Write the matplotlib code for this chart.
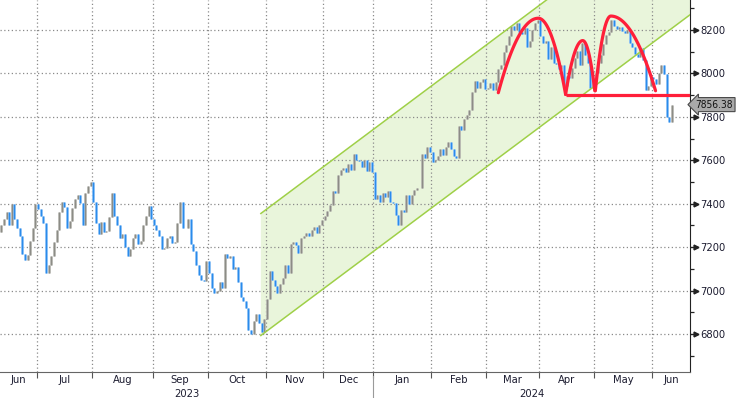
import numpy as np
import matplotlib
matplotlib.use("Agg")
import matplotlib.pyplot as plt
from matplotlib.transforms import blended_transform_factory

plt.rcParams['font.family'] = ['Liberation Sans Narrow', 'DejaVu Sans']
plt.rcParams['font.stretch'] = 'condensed'

# daily closes, one list per month (trading days)
prior_close = 7270
jun23 = [7300, 7330, 7360, 7300, 7400, 7330, 7290, 7250, 7170, 7140, 7165, 7230, 7290, 7400]
jul23 = [7375, 7345, 7310, 7080, 7120, 7160, 7225, 7280, 7360, 7410, 7385, 7290, 7320, 7380,
         7420, 7440, 7405, 7300, 7450, 7480, 7500]
aug23 = [7410, 7310, 7260, 7315, 7270, 7275, 7340, 7450, 7345, 7300, 7240, 7260, 7200, 7160,
         7190, 7240, 7260, 7215, 7230, 7300, 7345, 7390, 7330]
sep23 = [7300, 7280, 7250, 7190, 7195, 7240, 7250, 7220, 7225, 7310, 7410, 7290, 7290, 7330,
         7215, 7180, 7120, 7070, 7050, 7045, 7135]
oct23 = [7080, 7010, 6990, 7000, 7040, 7010, 7170, 7150, 7160, 7100, 7110, 7040, 6970, 6950,
         6920, 6820, 6800, 6860, 6890, 6850, 6810, 6870]
nov23 = [6960, 7090, 7050, 7020, 6990, 7030, 7060, 7120, 7080, 7215, 7225, 7210, 7175, 7240,
         7250, 7265, 7250, 7280, 7295, 7265, 7300, 7325]
dec23 = [7345, 7365, 7395, 7460, 7450, 7530, 7555, 7565, 7545, 7585, 7555, 7630, 7600, 7595,
         7570, 7600, 7550, 7590, 7545]
jan24 = [7420, 7440, 7410, 7450, 7430, 7460, 7410, 7405, 7350, 7300, 7370, 7360, 7440, 7400,
         7440, 7465, 7470, 7470, 7630, 7610, 7660, 7640]
feb24 = [7590, 7600, 7620, 7650, 7625, 7660, 7685, 7650, 7620, 7610, 7760, 7740, 7790, 7810,
         7830, 7915, 7965, 7935, 7960, 7975, 7930]
mar24 = [7935, 7955, 7925, 7960, 8020, 8040, 8100, 8130, 8170, 8220, 8200, 8230, 8190, 8180,
         8210, 8120, 8150, 8200, 8230, 8245]
apr24 = [8170, 8140, 8150, 8065, 8120, 8050, 8045, 8020, 8040, 7940, 7990, 7980, 8025, 8070,
         8105, 8040, 8140, 8085, 8050, 7935, 7970]
may24 = [8000, 8050, 8085, 8135, 8175, 8190, 8245, 8220, 8205, 8215, 8195, 8185, 8200, 8140,
         8120, 8090, 8075, 8115, 8060, 7925, 7940, 7985]
jun24 = [7975, 7950, 8000, 8040, 7995, 7800, 7775, 7856.38]

monthly = [jun23, jul23, aug23, sep23, oct23, nov23, dec23, jan24, feb24, mar24, apr24, may24, jun24]
month_labels = ['Jun', 'Jul', 'Aug', 'Sep', 'Oct', 'Nov', 'Dec', 'Jan', 'Feb', 'Mar', 'Apr', 'May', 'Jun']
year_labels = ['2023', '2024']

# trend channel (bar index, price) and head & shoulders drawing
channel_x = [98.7, 261.9]
channel_low = [6793, 8270]
channel_width = 562
neckline = 7900
arcs = [  # (start x, start y, peak x, peak y, end x, end y)
    (189.0, 7911, 204.2, 8254, 214.6, 7903),
    (214.6, 7903, 221.1, 8151, 225.7, 7920),
    (225.9, 7920, 231.8, 8264, 248.8, 7920),
]

closes = np.concatenate(monthly).astype(float)
opens = np.concatenate([[prior_close], closes[:-1]])
x = np.arange(len(closes))
up = closes >= opens

FS = 8.0
INK = '#1c1c30'
xmin, xmax = -0.5, 261.9
fig = plt.figure(figsize=(7.36, 3.98), dpi=100)
ax = fig.add_axes([0, 26 / 398, 690 / 736, 372 / 398])
ax.set_xlim(xmin, xmax)
ax.set_ylim(6625, 8338)

# channel
cx = np.array(channel_x)
lo = np.array(channel_low)
ax.fill_between(cx, lo, lo + channel_width, color='#e9f5db', zorder=0, lw=0)
ax.plot(cx, lo, color='#9fd048', lw=1.1, zorder=3)
ax.plot(cx, lo + channel_width, color='#9fd048', lw=1.1, zorder=3)

# bars
for mask, halo, core in [(up, '#c2c2bc', '#8c8c86'), (~up, '#9ccaf8', '#2a8beb')]:
    ax.vlines(x[mask], opens[mask], closes[mask], color=halo, lw=2.0, zorder=2)
    ax.vlines(x[mask], opens[mask], closes[mask], color=core, lw=1.0, zorder=2.1)

# red pattern lines: two half-parabolas per arch
def arch(x0, y0, xp, yp, x1, y1, n=60):
    u = np.linspace(1, 0, n)
    lx = xp - (xp - x0) * u
    ly = yp - (yp - y0) * u ** 2
    rx = xp + (x1 - xp) * u[::-1]
    ry = yp - (yp - y1) * u[::-1] ** 2
    return np.r_[lx, rx], np.r_[ly, ry]

for a in arcs:
    ax_, ay_ = arch(*a)
    ax.plot(ax_, ay_, color='#ff1f3a', lw=2.3, solid_capstyle='round', zorder=5)
ax.plot([arcs[1][0], xmax], [neckline, neckline], color='#ff1f3a', lw=2.3, zorder=5,
        solid_capstyle='butt')

# x axis: month boundaries and labels
sizes = [len(m) for m in monthly]
bounds = np.cumsum(sizes)[:-1] - 0.5
edges = np.r_[xmin, bounds, xmax]
centers = (edges[:-1] + edges[1:]) / 2
ax.set_xticks(bounds)
ax.set_xticklabels([])
ax.set_xticks(centers, minor=True)
ax.set_xticklabels(month_labels, minor=True)
ax.tick_params(axis='x', which='major', length=4, width=0.8, color='#555555', direction='out')
ax.tick_params(axis='x', which='minor', length=0, pad=2.0, labelsize=FS, labelcolor=INK)

year_sep = bounds[6]
trans = blended_transform_factory(ax.transData, ax.transAxes)
for lab, cx_ in zip(year_labels, [(xmin + year_sep) / 2, (year_sep + xmax) / 2]):
    ax.text(cx_, -0.058, lab, transform=trans, ha='center', va='center', fontsize=FS,
            color=INK)
ax.plot([year_sep, year_sep], [-0.012, -0.075], transform=trans, clip_on=False,
        color='#9a9a9a', lw=0.8)

# y axis on the right
yt = np.arange(6800, 8201, 200)
ax.yaxis.tick_right()
ax.set_yticks(yt)
ax.set_yticks(np.arange(6700, 8301, 100), minor=True)
ax.tick_params(axis='y', which='major', length=6, width=1.0, color='#222222', pad=1.5,
               labelsize=FS, labelcolor=INK)
ax.tick_params(axis='y', which='minor', length=3, width=0.9, color='#222222')
ytrans = blended_transform_factory(ax.transAxes, ax.transData)
ax.plot(np.full(len(yt), 1.0 + 6 / 690), yt, ls='none', marker='>', ms=3.5, color='#222222',
        transform=ytrans, clip_on=False, zorder=6)

ax.grid(True, which='major', ls=(0, (1, 2)), color='#8a8a8a', lw=0.9)

for s in ['top', 'left']:
    ax.spines[s].set_visible(False)
ax.spines['right'].set_color('#222222')
ax.spines['bottom'].set_color('#666666')

# last price tag
last = closes[-1]
ax.text(1.008, last, f'{last:.2f}', transform=ytrans, ha='left', va='center', fontsize=7.3,
        color='#111111',
        bbox=dict(boxstyle='larrow,pad=0.2', fc='#a9a9a9', ec='#4a4a4a', lw=0.8))

fig.savefig('out.png', dpi=100)
